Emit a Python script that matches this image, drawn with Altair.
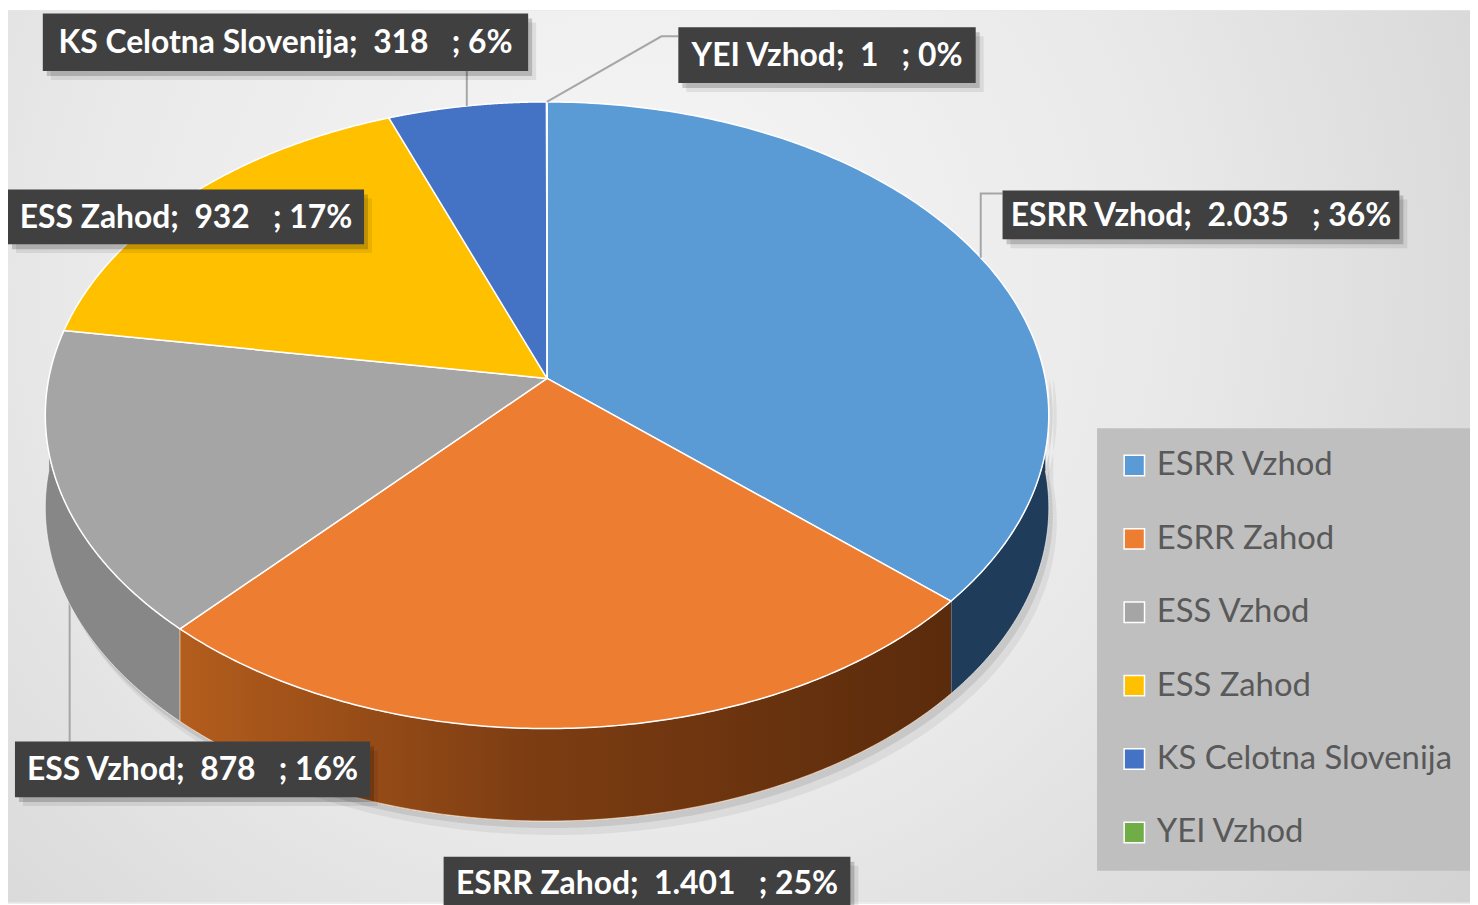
import altair as alt
import pandas as pd

# ---------------- data ----------------
categories = ["ESRR Vzhod", "ESRR Zahod", "ESS Vzhod", "ESS Zahod", "KS Celotna Slovenija", "YEI Vzhod"]
values = [2035, 1401, 878, 932, 318, 1]
value_labels = ["2.035", "1.401", "878", "932", "318", "1"]
pct_labels = [36, 25, 16, 17, 6, 0]

# ---------------- styles ----------------
top_colors = ["#5B9BD5", "#ED7D31", "#A5A5A5", "#FFC000", "#4472C4", "#70AD47"]
side_colors = ["#1f3c5a", "#7a3b12", "#878787", "#a67c00", "#2b4a80", "#4a7530"]
FONT = "Lato"

# ---------------- geometry (page pixels) ----------------
CX, CY = 550, 378      # pie apex
R = 501                # horizontal radius
T = 310.7              # vertical radius (tilted)
K = 0.1175             # perspective strength
D = 93                 # pie thickness
N = 160                # points per arc

# label boxes (page pixels)
box_x0 = [1008, 446, 15, 8, 43, 682]
box_x1 = [1407, 855, 372, 366, 531, 981]
box_y0 = [189, 859, 743, 188, 11, 25]
box_y1 = [238, 914, 799, 243, 69, 81]
# leader lines: elbow x (None -> edge x), elbow y, end x, end y
lead_ex = [None, None, None, None, None, 665]
lead_ey = [192, None, None, None, 69, 34]
lead_tx = [1008, None, 70, None, None, 682]
lead_ty = [192, None, 743, None, 69, 34]

W, H = 1470, 897
NB = "\u00a0"

labels = [f"{c};{NB}{NB}{v}{NB}{NB}{NB};{NB}{p}%" for c, v, p in zip(categories, value_labels, pct_labels)]

df = pd.DataFrame({
    "category": categories,
    "value": values,
    "ord": list(range(len(categories))),
    "side": side_colors,
    "label": labels,
    "bx0": box_x0, "bx1": box_x1, "by0": box_y0, "by1": box_y1,
    "lex": lead_ex, "ley": lead_ey, "ltx": lead_tx, "lty": lead_ty,
})

xs = alt.Scale(domain=[8, 1478], nice=False, zero=False)
ys = alt.Scale(domain=[905, 8], nice=False, zero=False)


def angles(chart):
    return (chart
            .transform_joinaggregate(total="sum(value)")
            .transform_window(cum="sum(value)", sort=[alt.SortField("ord", order="ascending")], frame=[None, 0])
            .transform_calculate(a0="2*PI*(datum.cum-datum.value)/datum.total",
                                 a1="2*PI*datum.cum/datum.total"))


# background
bg = alt.Chart(pd.DataFrame({"a": [0]})).mark_rect(
    fill=alt.RadialGradient(
        gradient="radial", x1=0.42, y1=0.38, r1=0, x2=0.42, y2=0.38, r2=0.75,
        stops=[alt.GradientStop(color="#f7f7f7", offset=0),
               alt.GradientStop(color="#e9e9e9", offset=0.5),
               alt.GradientStop(color="#d0d0d0", offset=1)])
).encode(x=alt.value(0), x2=alt.value(W), y=alt.value(0), y2=alt.value(H))


def side_geom(dx, dy_extra):
    return (angles(alt.Chart(df))
            .transform_calculate(b0="max(datum.a0, PI/2)", b1="min(datum.a1, 3*PI/2)")
            .transform_filter("datum.b1 > datum.b0")
            .transform_calculate(seq=f"sequence(0, {2 * N + 2})")
            .transform_flatten(["seq"])
            .transform_calculate(a=f"datum.seq <= {N} ? datum.b0 + (datum.b1-datum.b0)*datum.seq/{N} : datum.b1 - (datum.b1-datum.b0)*(datum.seq-{N}-1)/{N}")
            .transform_calculate(dy=f"datum.seq <= {N} ? 0 : {D + dy_extra}")
            .transform_calculate(s=f"1/(1+{K}*cos(datum.a))")
            .transform_calculate(px=f"{CX + dx} + {R}*sin(datum.a)*datum.s",
                                 py=f"{CY} - {T}*cos(datum.a)*datum.s + datum.dy"))


XE = alt.X("px:Q", scale=xs, axis=None)
YE = alt.Y("py:Q", scale=ys, axis=None)

# soft shadow under the pie
pie_shadow1 = side_geom(8, 14).mark_line(filled=True, fill="#000000", fillOpacity=0.06, strokeOpacity=0).encode(
    x=XE, y=YE, detail="category:N", order="seq:Q")
pie_shadow2 = side_geom(4, 7).mark_line(filled=True, fill="#000000", fillOpacity=0.09, strokeOpacity=0).encode(
    x=XE, y=YE, detail="category:N", order="seq:Q")

sides_base = side_geom(0, 0)
sides = sides_base.mark_line(filled=True, stroke="#ffffff", strokeOpacity=0.6, strokeWidth=1,
                             strokeJoin="round").encode(
    x=XE, y=YE, color=alt.Color("side:N", scale=None), detail="category:N", order="seq:Q")

orange_side = sides_base.transform_filter(alt.datum.category == "ESRR Zahod").mark_line(
    filled=True, stroke="#ffe0c0", strokeOpacity=0.7, strokeWidth=1, strokeJoin="round",
    fill=alt.LinearGradient(gradient="linear", x1=0, y1=0, x2=1, y2=0,
                            stops=[alt.GradientStop(color="#b35d1d", offset=0),
                                   alt.GradientStop(color="#7d3d12", offset=0.45),
                                   alt.GradientStop(color="#5a2b0c", offset=1)])
).encode(x=XE, y=YE, detail="category:N", order="seq:Q")

# top faces
top = (angles(alt.Chart(df))
       .transform_calculate(seq=f"sequence(-1, {N + 2})")
       .transform_flatten(["seq"])
       .transform_calculate(a=f"datum.a0 + (datum.a1-datum.a0)*clamp(datum.seq, 0, {N})/{N}")
       .transform_calculate(s=f"1/(1+{K}*cos(datum.a))")
       .transform_calculate(px=f"(datum.seq < 0 || datum.seq > {N}) ? {CX} : {CX} + {R}*sin(datum.a)*datum.s",
                            py=f"(datum.seq < 0 || datum.seq > {N}) ? {CY} : {CY} - {T}*cos(datum.a)*datum.s")
       .mark_line(filled=True, stroke="#ffffff", strokeWidth=1.5, strokeJoin="round")
       .encode(
           x=XE, y=YE,
           color=alt.Color("category:N", scale=alt.Scale(domain=categories, range=top_colors),
                           legend=alt.Legend(title=None, orient="none", legendX=1095, legendY=420,
                                             fillColor="#bfbfbf", padding=21, symbolType="square",
                                             symbolSize=420, symbolStrokeColor="#ffffff",
                                             symbolStrokeWidth=1.5, labelFont=FONT,
                                             labelFontSize=33, labelColor="#595959", labelOffset=6,
                                             rowPadding=39.8, labelLimit=0, symbolOpacity=1)),
           detail="category:N", order="seq:Q"))

# leader lines with elbows (edge point at the slice's mid angle)
leaders = (angles(alt.Chart(df))
           .transform_calculate(mid="(datum.a0 + datum.a1)/2")
           .transform_calculate(ms=f"1/(1+{K}*cos(datum.mid))")
           .transform_calculate(edx=f"{CX} + {R}*sin(datum.mid)*datum.ms",
                                edy=f"{CY} - {T}*cos(datum.mid)*datum.ms")
           .transform_filter("isValid(datum.ley)")
           .transform_calculate(seq="sequence(0, 3)")
           .transform_flatten(["seq"])
           .transform_calculate(
               px="datum.seq == 0 ? datum.edx : (datum.seq == 1 ? (isValid(datum.lex) ? datum.lex : datum.edx) : (isValid(datum.ltx) ? datum.ltx : datum.edx))",
               py="datum.seq == 0 ? datum.edy : (datum.seq == 1 ? datum.ley : datum.lty)")
           .mark_line(color="#a6a6a6", strokeWidth=2)
           .encode(x=XE, y=YE, detail="category:N", order="seq:Q"))

# the ESS Vzhod leader (vertical, runs behind the pie down to its label)
leader_ess = (angles(alt.Chart(df))
              .transform_filter(alt.datum.category == "ESS Vzhod")
              .transform_calculate(mid="(datum.a0 + datum.a1)/2")
              .transform_calculate(ms=f"1/(1+{K}*cos(datum.mid))")
              .transform_calculate(edy=f"{CY} - {T}*cos(datum.mid)*datum.ms")
              .transform_calculate(seq="sequence(0, 2)")
              .transform_flatten(["seq"])
              .transform_calculate(px="datum.ltx",
                                   py="datum.seq == 0 ? datum.edy : datum.lty")
              .mark_line(color="#a6a6a6", strokeWidth=2)
              .encode(x=XE, y=YE, detail="category:N", order="seq:Q"))

lbl = alt.Chart(df)
shadow1 = lbl.transform_calculate(sx0="datum.bx0+8", sx1="datum.bx1+8", sy0="datum.by0+9", sy1="datum.by1+9").mark_rect(
    color="#000000", opacity=0.08).encode(x=alt.X("sx0:Q", scale=xs, axis=None), x2="sx1:Q",
                                          y=alt.Y("sy0:Q", scale=ys, axis=None), y2="sy1:Q")
shadow2 = lbl.transform_calculate(sx0="datum.bx0+4", sx1="datum.bx1+4", sy0="datum.by0+5", sy1="datum.by1+5").mark_rect(
    color="#000000", opacity=0.18).encode(x=alt.X("sx0:Q", scale=xs, axis=None), x2="sx1:Q",
                                          y=alt.Y("sy0:Q", scale=ys, axis=None), y2="sy1:Q")
boxes = lbl.mark_rect(color="#404040").encode(
    x=alt.X("bx0:Q", scale=xs, axis=None), x2="bx1:Q",
    y=alt.Y("by0:Q", scale=ys, axis=None), y2="by1:Q")
texts = lbl.transform_calculate(tx="(datum.bx0+datum.bx1)/2", ty="(min(datum.by1, 912)+datum.by0)/2 + 1").mark_text(
    font=FONT, fontWeight="bold", fontSize=32, color="#ffffff",
    align="center", baseline="middle").encode(
    x=alt.X("tx:Q", scale=xs, axis=None), y=alt.Y("ty:Q", scale=ys, axis=None), text="label:N")

chart = alt.layer(bg, leader_ess, pie_shadow1, pie_shadow2, sides, orange_side, top, leaders,
                  shadow1, shadow2, boxes, texts).properties(
    width=W, height=H, autosize=alt.AutoSizeParams(type="none"), padding=0
).configure_view(stroke=None).configure(background="#ffffff")

chart.save("out.html", embed_options={"renderer": "svg", "actions": False})
